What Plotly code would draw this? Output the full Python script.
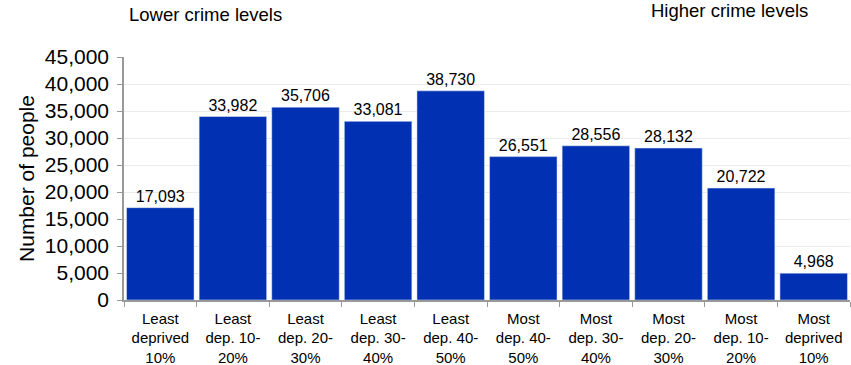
import plotly.graph_objects as go

categories = ["Least<br>deprived<br>10%", "Least<br>dep. 10-<br>20%", "Least<br>dep. 20-<br>30%",
              "Least<br>dep. 30-<br>40%", "Least<br>dep. 40-<br>50%", "Most<br>dep. 40-<br>50%",
              "Most<br>dep. 30-<br>40%", "Most<br>dep. 20-<br>30%", "Most<br>dep. 10-<br>20%",
              "Most<br>deprived<br>10%"]
values = [17093, 33982, 35706, 33081, 38730, 26551, 28556, 28132, 20722, 4968]
labels = [f"{v:,}" for v in values]

W, H = 851, 365
px0, px1, py0, py1 = 124, 850, 57, 300  # plot area on screen
pw, ph = px1 - px0, py1 - py0

fig = go.Figure(go.Bar(
    x=categories, y=values, text=labels, textposition="outside",
    textfont=dict(size=16, color="black"), marker_color="#0131B2",
    cliponaxis=False,
))

fig.update_layout(
    width=W, height=H,
    margin=dict(l=px0, r=W - px1, t=py0, b=H - py1, autoexpand=False),
    paper_bgcolor="white", plot_bgcolor="white",
    font=dict(family="Liberation Sans, Arial, sans-serif", color="black"),
    bargap=0.07, showlegend=False,
    xaxis=dict(showline=True, linecolor="#999999", linewidth=1.5, automargin=False,
               ticks="outside", ticklen=5, tickcolor="#999999",
               tickfont=dict(size=15), tickson="boundaries", ticklabelstandoff=4),
    yaxis=dict(range=[0, 45000], dtick=5000, tickformat=",", automargin=False,
               showline=True, linecolor="#999999", linewidth=1.5,
               ticks="outside", ticklen=5, tickcolor="#999999", ticklabelstandoff=4,
               gridcolor="#EBEBEB", tickfont=dict(size=21),
               title=dict(text="Number of people", font=dict(size=21), standoff=4)),
    annotations=[
        dict(text="Lower crime levels", x=(205 - px0) / pw, y=(py1 - 14) / ph,
             xref="paper", yref="paper", xanchor="center", yanchor="middle",
             showarrow=False, font=dict(size=18.5)),
        dict(text="Higher crime levels", x=(729 - px0) / pw, y=(py1 - 11) / ph,
             xref="paper", yref="paper", xanchor="center", yanchor="middle",
             showarrow=False, font=dict(size=18.5)),
    ],
)

fig.write_html("out.html", config={"displayModeBar": False},
               post_script="document.body.style.margin='0';document.body.style.overflow='hidden';")
